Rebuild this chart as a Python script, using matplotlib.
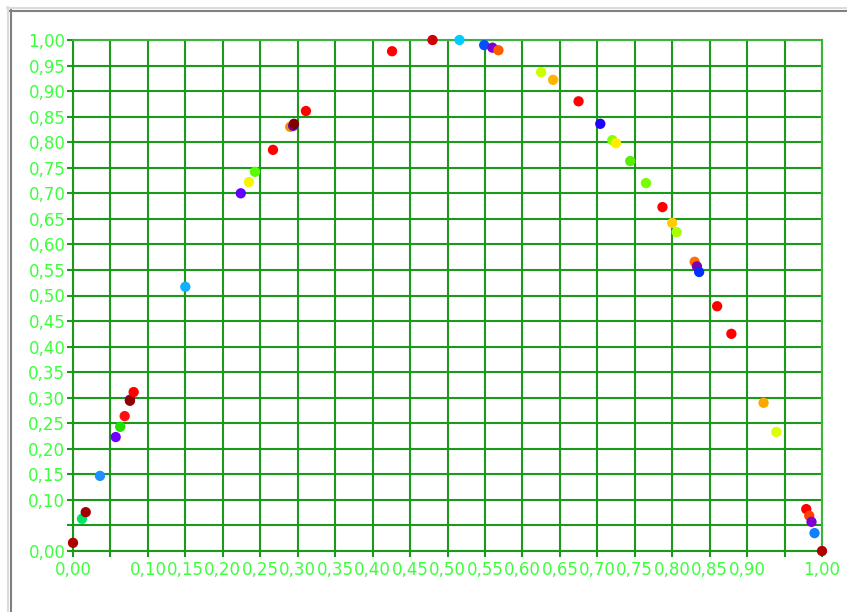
import numpy as np
import matplotlib
matplotlib.use("Agg")
import matplotlib.pyplot as plt
from matplotlib.lines import Line2D

# point data
x_vals = [0.000, 0.012, 0.017, 0.036, 0.057, 0.063, 0.069, 0.076, 0.076, 0.081,
          0.150, 0.224, 0.235, 0.243, 0.267, 0.290, 0.294, 0.295, 0.311, 0.426,
          0.480, 0.516, 0.549, 0.560, 0.568, 0.625, 0.641, 0.675, 0.704, 0.720,
          0.725, 0.744, 0.765, 0.787, 0.800, 0.806, 0.830, 0.833, 0.836, 0.860,
          0.879, 0.922, 0.939, 0.979, 0.983, 0.986, 0.990, 1.000]
y_vals = [0.016, 0.063, 0.076, 0.147, 0.223, 0.243, 0.264, 0.296, 0.294, 0.311,
          0.517, 0.700, 0.722, 0.742, 0.785, 0.830, 0.832, 0.836, 0.861, 0.978,
          1.000, 1.000, 0.990, 0.985, 0.980, 0.937, 0.922, 0.880, 0.836, 0.804,
          0.798, 0.763, 0.720, 0.673, 0.642, 0.624, 0.566, 0.557, 0.546, 0.479,
          0.425, 0.290, 0.233, 0.082, 0.069, 0.057, 0.035, 0.000]
colors = ['#b00000', '#00e66a', '#a00000', '#1e90ff', '#7000ff', '#20e000', '#ff1010', '#7000c0', '#900000', '#ff0000',
          '#10b0ff', '#6000ff', '#f5f500', '#55ff00', '#ff0000', '#ff8c00', '#6000c0', '#800000', '#ff0000', '#ff0000',
          '#d00000', '#00ccff', '#0050ff', '#8000d0', '#ff5a00', '#ccff00', '#ffb400', '#ff0000', '#2000ff', '#88ff00',
          '#ffee00', '#55ee00', '#77ff00', '#ff0000', '#ffcc00', '#aaff00', '#ff7000', '#8000b0', '#0030ff', '#ff0000',
          '#ff0000', '#ffa500', '#ddff00', '#ff0000', '#ff4000', '#8000d0', '#1080ff', '#b00000']

tick_pos = [round(i * 0.05, 2) for i in range(21)]
hidden_x = [0.05, 0.95]
hidden_y = [0.05]

grid_color = '#1a9a1a'
label_color = '#3cff3c'

fig = plt.figure(figsize=(8.47, 6.12), dpi=100)
fig.patch.set_facecolor('white')
ax = fig.add_axes([73 / 847, 61 / 612, 749 / 847, 511 / 612])
ax.set_xlim(0, 1)
ax.set_ylim(0, 1)

def fmt(v):
    return f"{v:.2f}".replace('.', ',')

ax.set_xticks(tick_pos)
ax.set_yticks(tick_pos)
ax.set_xticklabels(['' if v in hidden_x else fmt(v) for v in tick_pos])
ax.set_yticklabels(['' if v in hidden_y else fmt(v) for v in tick_pos])

ax.grid(True, color=grid_color, linewidth=1.5)
ax.set_axisbelow(True)
for s in ax.spines.values():
    s.set_color(grid_color)
    s.set_linewidth(1.5)
ax.spines['top'].set_color('#3cb43c')
ax.spines['right'].set_color('#3cb43c')

ax.tick_params(axis='both', direction='out', length=4.5, width=1.5, color=grid_color,
               labelcolor=label_color, labelsize=12)
ax.tick_params(axis='y', pad=1)
ax.tick_params(axis='x', pad=3)

ax.scatter(x_vals, y_vals, c=colors, s=55, linewidths=0, zorder=3, clip_on=False)

# window frame, only top and left edges visible
fig.add_artist(Line2D([7 / 847, 1], [1 - 7.5 / 612, 1 - 7.5 / 612], color='#dcdcdc', lw=1.5))
fig.add_artist(Line2D([7.5 / 847, 7.5 / 847], [0, 1 - 7 / 612], color='#dcdcdc', lw=1.5))
fig.add_artist(Line2D([10 / 847, 1], [1 - 10.5 / 612, 1 - 10.5 / 612], color='#808080', lw=1.5))
fig.add_artist(Line2D([10.5 / 847, 10.5 / 847], [0, 1 - 10 / 612], color='#808080', lw=1.5))

fig.savefig('out.png', dpi=100)
